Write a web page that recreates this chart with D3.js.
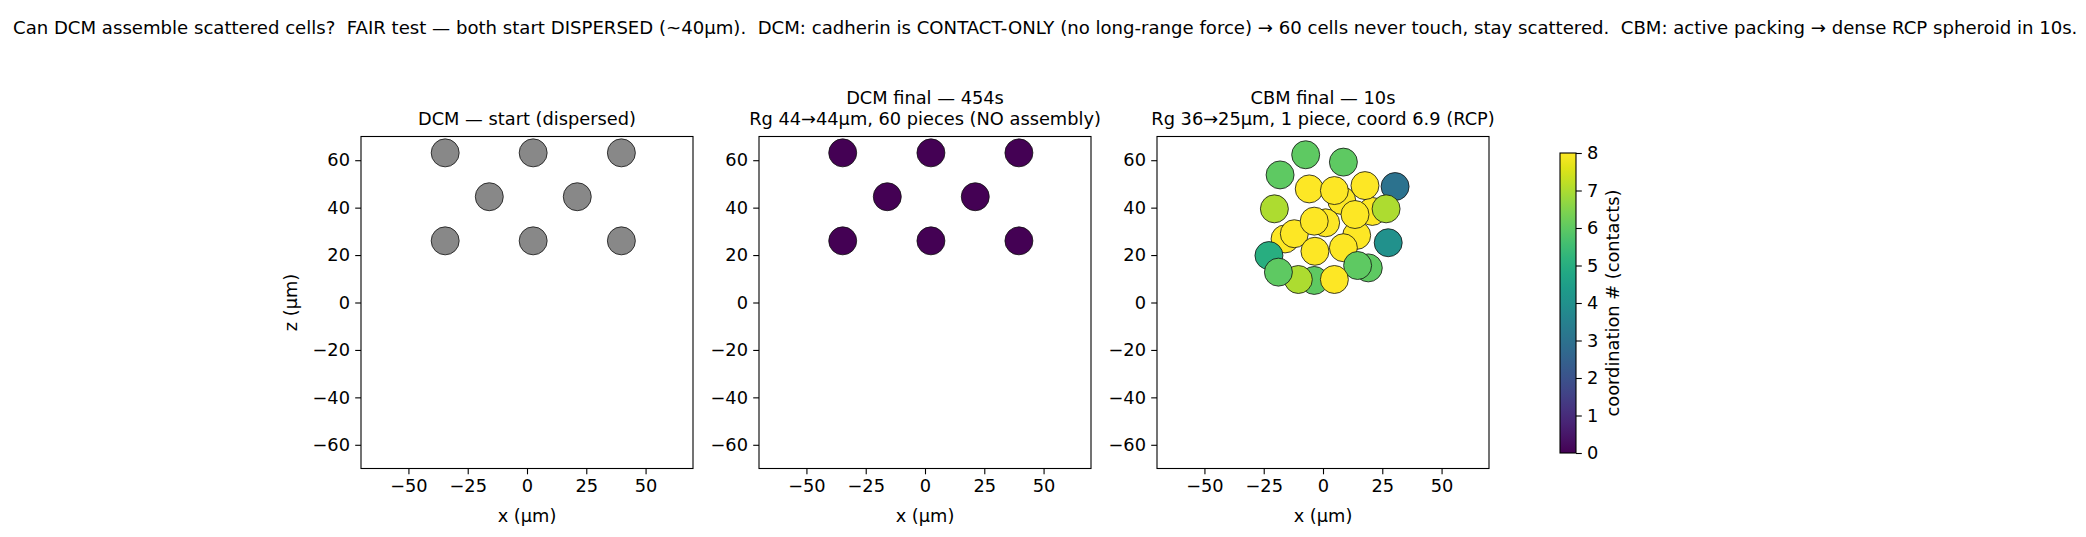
<!DOCTYPE html>
<html>
<head>
<meta charset="utf-8">
<script src="https://cdn.jsdelivr.net/npm/d3@7"></script>
<style>
  body { margin: 0; background: #fff; }
  text { font-family: "DejaVu Sans", sans-serif; fill: #000; white-space: pre; }
  .tick line, .domain { stroke: #000; }
</style>
</head>
<body>
<div id="chart"></div>
<script>
var W = 2086, H = 537;

// --- data ---
var suptitle = "Can DCM assemble scattered cells?  FAIR test \u2014 both start DISPERSED (~40\u03bcm).  DCM: cadherin is CONTACT-ONLY (no long-range force) \u2192 60 cells never touch, stay scattered.  CBM: active packing \u2192 dense RCP spheroid in 10s.";

var panelTitles = [
  ["DCM \u2014 start (dispersed)"],
  ["DCM final \u2014 454s", "Rg 44\u219244\u03bcm, 60 pieces (NO assembly)"],
  ["CBM final \u2014 10s", "Rg 36\u219225\u03bcm, 1 piece, coord 6.9 (RCP)"]
];

var xTicks = [-50, -25, 0, 25, 50];
var zTicks = [-60, -40, -20, 0, 20, 40, 60];
var cbTicks = [0, 1, 2, 3, 4, 5, 6, 7, 8];

// dispersed lattice (projected), start and DCM final
var startX = [-34.5, 2.6, 39.8, -15.9, 21.2, -34.5, 2.6, 39.8];
var startZ = [63.1, 63.1, 63.1, 44.6, 44.6, 26.0, 26.0, 26.0];
var dcmX = [-34.7, 2.5, 39.6, -15.9, 21.2, -34.7, 2.5, 39.6];
var dcmZ = [63.1, 63.1, 63.1, 44.6, 44.6, 26.0, 26.0, 26.0];
var dcmCoord = [0, 0, 0, 0, 0, 0, 0, 0];

// CBM spheroid, back-to-front draw order
var cbmX = [7.9, 20.8, 1.1, -16.0, 14.2, 19.1, -22.8, -3.7,
  -7.3, 8.6, -18.1, -5.8, 4.8, 17.7, 30.4, -20.5, 26.6, 13.5,
  -12.1, -3.7, 27.5, -3.4, 8.6, 14.6, -10.4, -18.8, 4.8];
var cbmZ = [43.0, 38.4, 33.6, 26.8, 28.3, 14.6, 19.8, 9.3,
  62.3, 59.2, 53.8, 47.9, 47.2, 49.3, 48.9, 39.5, 39.5, 37.1,
  29.0, 34.3, 25.2, 21.6, 23.1, 15.6, 9.7, 12.8, 9.7];
var cbmCoord = [8, 8, 8, 8, 8, 6, 5, 6,
  6, 6, 6, 8, 8, 8, 3, 7, 7, 8,
  8, 8, 4, 8, 8, 6, 7, 6, 8];

var cellR = 5.9;   // cell radius, um
var grey = "#888888";
var fs = "17.8px";

// --- layout ---
var panelLeft = [361, 759, 1157], panelTop = 136.5, panelSize = 332;
var cb = {x: 1560, y: 153, w: 16, h: 300};

var svg = d3.select("#chart").append("svg")
  .attr("width", W).attr("height", H);

svg.append("text")
  .attr("x", 13).attr("y", 29)
  .attr("dominant-baseline", "middle")
  .attr("xml:space", "preserve")
  .style("font-size", "18.1px")
  .text(suptitle);

var color = d3.scaleSequential(d3.interpolateViridis).domain([0, 8]);

var x = d3.scaleLinear().domain([-70, 70]).range([0, panelSize]);
var z = d3.scaleLinear().domain([-70, 70]).range([panelSize, 0]);

var minus = function(d) { return d < 0 ? "\u2212" + (-d) : d; };

var panels = [
  {xs: startX, zs: startZ, fill: function() { return grey; }},
  {xs: dcmX, zs: dcmZ, fill: function(i) { return color(dcmCoord[i]); }},
  {xs: cbmX, zs: cbmZ, fill: function(i) { return color(cbmCoord[i]); }}
];

panels.forEach(function(p, k) {
  var g = svg.append("g")
    .attr("transform", "translate(" + panelLeft[k] + "," + panelTop + ")");

  var clipId = "clip" + k;
  g.append("clipPath").attr("id", clipId)
    .append("rect").attr("width", panelSize).attr("height", panelSize);

  g.append("g").attr("clip-path", "url(#" + clipId + ")")
    .selectAll("circle")
    .data(d3.range(p.xs.length))
    .join("circle")
      .attr("cx", function(i) { return x(p.xs[i]); })
      .attr("cy", function(i) { return z(p.zs[i]); })
      .attr("r", x(cellR) - x(0))
      .attr("fill", function(i) { return p.fill(i); })
      .attr("stroke", "#111")
      .attr("stroke-width", 0.8);

  var xa = g.append("g")
    .attr("transform", "translate(0," + panelSize + ")")
    .call(d3.axisBottom(x).tickValues(xTicks).tickSize(5.8).tickPadding(5).tickFormat(minus));
  var za = g.append("g")
    .call(d3.axisLeft(z).tickValues(zTicks).tickSize(5.8).tickPadding(5.2).tickFormat(minus));
  [xa, za].forEach(function(a) {
    a.selectAll(".domain").remove();
    a.selectAll("text").style("font-size", fs).style("font-family", "DejaVu Sans");
    a.selectAll(".tick line").attr("stroke-width", 1.1);
  });

  g.append("rect")
    .attr("width", panelSize).attr("height", panelSize)
    .attr("fill", "none").attr("stroke", "#000").attr("stroke-width", 1.1);

  // titles
  var lines = panelTitles[k];
  lines.forEach(function(t, j) {
    g.append("text")
      .attr("x", panelSize / 2)
      .attr("y", -16.5 - (lines.length - 1 - j) * 21)
      .attr("text-anchor", "middle")
      .attr("dominant-baseline", "middle")
      .style("font-size", fs)
      .text(t);
  });

  g.append("text")
    .attr("x", panelSize / 2).attr("y", panelSize + 48)
    .attr("text-anchor", "middle").attr("dominant-baseline", "middle")
    .style("font-size", fs)
    .text("x (\u03bcm)");

  if (k === 0) {
    g.append("text")
      .attr("transform", "translate(" + (-69) + "," + (panelSize / 2) + ") rotate(-90)")
      .attr("text-anchor", "middle").attr("dominant-baseline", "middle")
      .style("font-size", fs)
      .text("z (\u03bcm)");
  }
});

// --- colorbar ---
var defs = svg.append("defs");
var grad = defs.append("linearGradient").attr("id", "viridis")
  .attr("x1", "0%").attr("y1", "100%").attr("x2", "0%").attr("y2", "0%");
d3.range(0, 1.0001, 0.05).forEach(function(t) {
  grad.append("stop").attr("offset", (t * 100) + "%")
    .attr("stop-color", d3.interpolateViridis(t));
});

var cbScale = d3.scaleLinear().domain([0, 8]).range([cb.h, 0]);
var cg = svg.append("g").attr("transform", "translate(" + cb.x + "," + cb.y + ")");
cg.append("rect").attr("width", cb.w).attr("height", cb.h).attr("fill", "url(#viridis)");
cg.append("rect").attr("width", cb.w).attr("height", cb.h)
  .attr("fill", "none").attr("stroke", "#000").attr("stroke-width", 1.1);
var ca = cg.append("g").attr("transform", "translate(" + cb.w + ",0)")
  .call(d3.axisRight(cbScale).tickValues(cbTicks).tickSize(5.8).tickPadding(5.2));
ca.selectAll(".domain").remove();
ca.selectAll("text").style("font-size", fs).style("font-family", "DejaVu Sans");
ca.selectAll(".tick line").attr("stroke-width", 1.1);

cg.append("text")
  .attr("transform", "translate(" + 54 + "," + (cb.h / 2) + ") rotate(-90)")
  .attr("text-anchor", "middle").attr("dominant-baseline", "middle")
  .style("font-size", fs)
  .text("coordination # (contacts)");
</script>
</body>
</html>
